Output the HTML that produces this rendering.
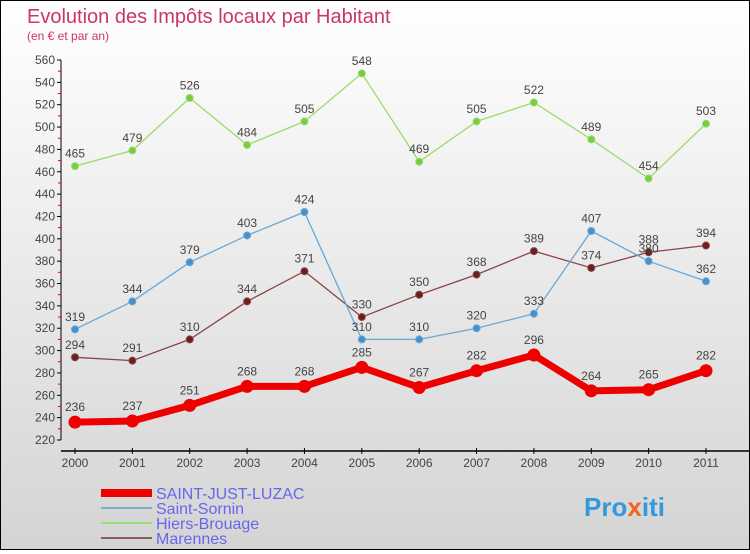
<!DOCTYPE html>
<html><head><meta charset="utf-8"><style>
html,body{margin:0;padding:0}
body{width:750px;height:550px;overflow:hidden;font-family:"Liberation Sans","DejaVu Sans",sans-serif}
#wrap{position:relative;width:748px;height:548px;border:1px solid #000;background:linear-gradient(#ffffff,#d4d4d4)}
</style></head><body>
<div id="wrap">
<svg id="chart" width="748" height="548">
<text x="26" y="22" font-size="20" fill="#c8366a">Evolution des Impôts locaux par Habitant</text>
<text x="26" y="39" font-size="12" fill="#c8366a">(en € et par an)</text>
<g id="axes"></g><g id="series"></g>
<g>
<line x1="100" y1="492" x2="151" y2="492" stroke="#ee0000" stroke-width="8"/>
<text x="155" y="498" font-size="16" fill="#6666ee">SAINT-JUST-LUZAC</text>
<line x1="100" y1="507" x2="151" y2="507" stroke="#7aaed0" stroke-width="2"/>
<text x="155" y="513" font-size="16" fill="#6666ee">Saint-Sornin</text>
<line x1="100" y1="522" x2="151" y2="522" stroke="#99dd77" stroke-width="2"/>
<text x="155" y="528" font-size="16" fill="#6666ee">Hiers-Brouage</text>
<line x1="100" y1="537" x2="151" y2="537" stroke="#8b5a5a" stroke-width="2"/>
<text x="155" y="543" font-size="16" fill="#6666ee">Marennes</text>
</g>
<text x="583" y="515" font-size="26" font-weight="bold" fill="#3399dd">Pro<tspan fill="#ee6622">x</tspan>iti</text>
</svg></div>
<script>
const years=[2000,2001,2002,2003,2004,2005,2006,2007,2008,2009,2010,2011];
const yTicks=[220,240,260,280,300,320,340,360,380,400,420,440,460,480,500,520,540,560];
const sjl=[236,237,251,268,268,285,267,282,296,264,265,282];
const sornin=[319,344,379,403,424,310,310,320,333,407,380,362];
const hiers=[465,479,526,484,505,548,469,505,522,489,454,503];
const marennes=[294,291,310,344,371,330,350,368,389,374,388,394];
const NS='http://www.w3.org/2000/svg';
const X=i=>74+i*(631/11);
const Y=v=>439-(v-220)*380/340;
function mk(tag,attrs,parent){const e=document.createElementNS(NS,tag);for(const k in attrs)e.setAttribute(k,attrs[k]);parent.appendChild(e);return e;}
const ax=document.getElementById('axes');
let a=mk('line',{x1:60,y1:Y(560),x2:60,y2:Y(220),stroke:'#000'},ax);


a=mk('line',{x1:60,y1:450,x2:748,y2:450,stroke:'#000','stroke-width':1.5},ax);


yTicks.forEach((t,i)=>{
  mk('line',{x1:56,y1:Y(t),x2:60,y2:Y(t),stroke:'#000'},ax);
  if(i<yTicks.length-1)mk('line',{x1:57,y1:Y(t+10),x2:60,y2:Y(t+10),stroke:'#e00'},ax);
  const tx=mk('text',{x:54,y:Y(t)+4,'font-size':12,fill:'#444','text-anchor':'end'},ax);
  tx.textContent=t;
  
  
});
years.forEach((yr,i)=>{
  mk('line',{x1:X(i),y1:447,x2:X(i),y2:453,stroke:'#000'},ax);
  const tx=mk('text',{x:X(i),y:466,'font-size':12,fill:'#444','text-anchor':'middle'},ax);
  tx.textContent=yr;
  
  
});
const sg=document.getElementById('series');
function draw(vals,color,w,r,name,dark){
  const g=mk('g',{},sg);
  
  
  const p=mk('polyline',{points:vals.map((v,i)=>X(i)+','+Y(v)).join(' '),fill:'none',stroke:color,'stroke-width':w},g);
  
  
  vals.forEach((v,i)=>{
    const c=mk('circle',{cx:X(i),cy:Y(v),r:r,fill:dark,stroke:color,'stroke-width':1},g);
    
    
    const t=mk('text',{x:X(i),y:Y(v)-r-5,'font-size':12,fill:'#444','text-anchor':'middle'},g);
    t.textContent=v;
    
    
  });
}
draw(marennes,'#8b4545',1.3,3.5,'marennes','#6b1f1f');
draw(hiers,'#99dd66',1.3,3.5,'hiers-brouage','#77cc44');
draw(sornin,'#66a8d8',1.3,3.5,'saint-sornin','#4a90c8');
draw(sjl,'#ee0000',7,6,'saint-just-luzac','#ee0000');
</script>
</body></html>
